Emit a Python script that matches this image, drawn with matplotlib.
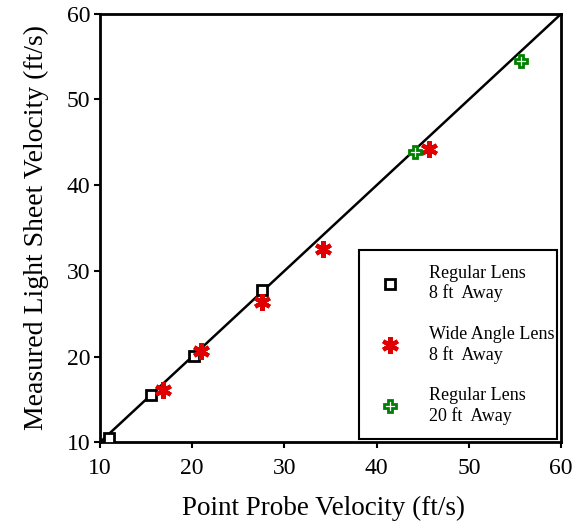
import matplotlib
matplotlib.use('Agg')
from matplotlib import pyplot as plt
from matplotlib.patches import Rectangle
import numpy as np

plt.rcParams['font.family'] = ['Liberation Serif', 'DejaVu Serif']

# Regular lens, 8 ft away
reg8_x = [11.0, 15.5, 20.2, 27.6]
reg8_y = [10.5, 15.5, 20.1, 27.8]
# Wide angle lens, 8 ft away
wide8_x = [16.8, 21.0, 27.6, 34.2, 45.7]
wide8_y = [16.1, 20.7, 26.4, 32.5, 44.2]
# Regular lens, 20 ft away
reg20_x = [44.1, 55.6]
reg20_y = [43.9, 54.5]

ticks = [10, 20, 30, 40, 50, 60]

fig = plt.figure(figsize=(5.78, 5.29), dpi=100)
ax = fig.add_axes([0.173, 0.164, 0.798, 0.81])

ax.plot([10, 60], [10, 60], color='black', lw=1.8, zorder=1)

ax.plot(reg8_x, reg8_y, ls='none', marker='s', ms=7, mfc='white', mec='black',
        mew=2, label='Regular Lens\n8 ft  Away', zorder=3)
ax.plot(wide8_x, wide8_y, ls='none', marker=(6, 2, 0), ms=12, mec='#e00000',
        mew=3, label='Wide Angle Lens\n8 ft  Away', zorder=3)
ax.plot(reg20_x, reg20_y, ls='none', marker='P', ms=8, mfc='white', mec='#008000',
        mew=2, label='Regular Lens\n20 ft  Away', zorder=3)

ax.set_xlim(10, 60)
ax.set_ylim(10, 60)
ax.set_xticks(ticks)
ax.set_yticks(ticks)
ax.tick_params(direction='out', length=4, width=1.5, labelsize=17, pad=3)
ax.tick_params(axis='x', pad=7)
for s in ax.spines.values():
    s.set_linewidth(2)

ax.set_xlabel('Point Probe Velocity (ft/s)', fontsize=19.5)
ax.xaxis.set_label_coords(0.484, -0.125)
ax.xaxis.label.set_va('top')
ax.set_ylabel('Measured Light Sheet Velocity (ft/s)', fontsize=20, labelpad=13)

# legend frame drawn separately so the padding can differ per side
ax.add_patch(Rectangle((0.562, 0.007), 0.429, 0.442, transform=ax.transAxes,
                       fill=True, facecolor='white', edgecolor='black',
                       lw=1.5, zorder=4))
leg = ax.legend(loc='upper left', bbox_to_anchor=(0.602, 0.414), fontsize=13,
                frameon=False, labelspacing=1.3, handletextpad=1.45,
                handlelength=1.4, borderpad=0, borderaxespad=0)
leg.set_zorder(5)

fig.savefig('out.png', dpi=100)
